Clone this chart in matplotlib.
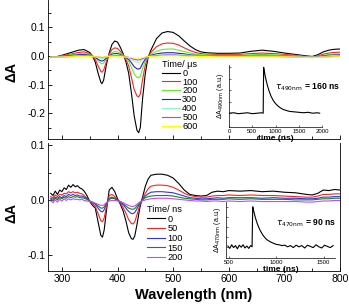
import matplotlib
matplotlib.use("Agg")
import matplotlib.pyplot as plt
from matplotlib.ticker import MultipleLocator

plt.rcParams['font.family'] = ['Liberation Sans', 'DejaVu Sans']

# TOP PANEL DATA (time in microseconds)
wl_top = [280, 290, 300, 310, 320, 330, 340, 350, 355, 360, 365, 370, 372, 375, 380, 385,
          390, 395, 400, 405, 410, 415, 420, 425, 430, 435, 438, 441, 445, 450, 455, 460,
          470, 480, 490, 500, 510, 520, 530, 540, 550, 560, 580, 600, 620, 640, 660, 680,
          700, 720, 740, 750, 760, 770, 780, 790, 800]
top_labels = ["0", "100", "200", "300", "400", "500", "600"]
top_colors = ["#000000", "#ff2020", "#66ee22", "#2020cc", "#88ffbb", "#cc33ff", "#ffff00"]
top_0 = [-0.004, -0.003, 0.002, 0.008, 0.014, 0.020, 0.022, 0.012, 0.0, -0.022, -0.060, -0.092, -0.097, -0.085, -0.030, 0.010,
         0.040, 0.052, 0.048, 0.030, 0.008, -0.020, -0.060, -0.130, -0.210, -0.260, -0.268, -0.250, -0.150, -0.060, -0.005, 0.020,
         0.060, 0.080, 0.085, 0.082, 0.070, 0.052, 0.035, 0.022, 0.014, 0.011, 0.009, 0.009, 0.010, 0.016, 0.020, 0.016,
         0.010, 0.005, 0.000, -0.002, 0.004, 0.014, 0.020, 0.023, 0.024]
top_100 = [-0.004, -0.003, 0.0, 0.004, 0.008, 0.012, 0.014, 0.008, 0.0, -0.012, -0.035, -0.054, -0.057, -0.050, -0.020, 0.006,
           0.022, 0.028, 0.026, 0.016, 0.004, -0.012, -0.035, -0.075, -0.118, -0.140, -0.143, -0.133, -0.082, -0.032, -0.003, 0.012,
           0.032, 0.042, 0.045, 0.044, 0.038, 0.028, 0.019, 0.012, 0.008, 0.006, 0.005, 0.005, 0.005, 0.008, 0.010, 0.008,
           0.005, 0.002, -0.002, -0.004, 0.0, 0.006, 0.010, 0.012, 0.013]
top_200 = [-0.004, -0.003, -0.001, 0.002, 0.005, 0.007, 0.008, 0.004, 0.0, -0.006, -0.017, -0.026, -0.028, -0.025, -0.011, 0.002,
           0.011, 0.015, 0.014, 0.009, 0.002, -0.007, -0.019, -0.040, -0.063, -0.075, -0.077, -0.072, -0.045, -0.018, -0.003, 0.005,
           0.016, 0.022, 0.024, 0.024, 0.020, 0.015, 0.010, 0.006, 0.004, 0.003, 0.002, 0.002, 0.002, 0.004, 0.005, 0.004,
           0.002, 0.0, -0.003, -0.004, -0.002, 0.002, 0.005, 0.006, 0.007]
top_300 = [-0.004, -0.003, -0.002, 0.0, 0.002, 0.004, 0.005, 0.002, -0.001, -0.005, -0.012, -0.017, -0.018, -0.016, -0.008, 0.0,
           0.006, 0.008, 0.008, 0.005, 0.0, -0.005, -0.012, -0.024, -0.038, -0.045, -0.046, -0.043, -0.027, -0.011, -0.002, 0.002,
           0.007, 0.010, 0.011, 0.011, 0.009, 0.007, 0.004, 0.002, 0.001, 0.001, 0.0, 0.0, 0.0, 0.001, 0.002, 0.001,
           0.0, -0.002, -0.004, -0.005, -0.003, 0.0, 0.002, 0.003, 0.004]
top_400 = [-0.005, -0.004, -0.003, -0.002, 0.0, 0.001, 0.002, 0.0, -0.001, -0.003, -0.006, -0.008, -0.009, -0.008, -0.004, -0.001,
           0.002, 0.003, 0.003, 0.002, -0.001, -0.003, -0.007, -0.013, -0.019, -0.022, -0.022, -0.021, -0.014, -0.006, -0.002, 0.0,
           0.003, 0.004, 0.005, 0.005, 0.004, 0.003, 0.002, 0.001, 0.0, 0.0, -0.001, -0.001, -0.001, 0.0, 0.0, 0.0,
           -0.001, -0.003, -0.004, -0.005, -0.004, -0.002, 0.0, 0.001, 0.002]
top_500 = [-0.005, -0.004, -0.004, -0.003, -0.002, -0.001, 0.0, -0.001, -0.002, -0.003, -0.004, -0.005, -0.006, -0.005, -0.003, -0.002,
           0.0, 0.001, 0.001, 0.0, -0.002, -0.003, -0.005, -0.009, -0.012, -0.014, -0.014, -0.013, -0.009, -0.005, -0.002, -0.001,
           0.001, 0.002, 0.003, 0.003, 0.002, 0.001, 0.0, 0.0, -0.001, -0.001, -0.002, -0.002, -0.002, -0.002, -0.002, -0.002,
           -0.003, -0.004, -0.005, -0.006, -0.005, -0.004, -0.003, -0.002, -0.001]
top_600 = [-0.004, -0.004, -0.004, -0.003, -0.003, -0.002, -0.002, -0.002, -0.003, -0.003, -0.004, -0.004, -0.004, -0.004, -0.003, -0.002,
           -0.001, -0.001, -0.001, -0.002, -0.003, -0.004, -0.005, -0.006, -0.007, -0.008, -0.008, -0.008, -0.006, -0.004, -0.003, -0.002,
           -0.001, 0.0, 0.0, 0.0, 0.0, -0.001, -0.001, -0.002, -0.002, -0.002, -0.003, -0.003, -0.003, -0.003, -0.003, -0.003,
           -0.003, -0.004, -0.005, -0.005, -0.005, -0.004, -0.004, -0.003, -0.003]
top_series = [top_0, top_100, top_200, top_300, top_400, top_500, top_600]

# BOTTOM PANEL DATA (time in nanoseconds)
wl_bot = [280, 284, 288, 292, 296, 300, 304, 308, 312, 316, 320, 324, 328, 332, 336, 340, 345, 350,
          355, 360, 365, 370, 373, 376, 380, 385, 390, 395, 400, 405, 410, 415, 420, 425, 428, 431,
          435, 440, 445, 450, 455, 460, 470, 480, 490, 500, 510, 520, 530, 540, 550, 560, 570, 580,
          590, 600, 620, 640, 660, 680, 700, 720, 740, 750, 760, 770, 780, 790, 800]
bot_labels = ["0", "50", "100", "150", "200"]
bot_colors = ["#000000", "#ff2020", "#3333ee", "#118811", "#cc44ff"]
bot_0 = [0.012, 0.008, 0.016, 0.010, 0.018, 0.015, 0.022, 0.019, 0.027, 0.023, 0.028, 0.024, 0.026, 0.022, 0.020, 0.016, 0.008, -0.003,
         -0.010, -0.015, -0.040, -0.065, -0.068, -0.055, -0.020, 0.018, 0.023, 0.015, 0.002, -0.008, -0.020, -0.038, -0.060, -0.071, -0.072, -0.066,
         -0.045, -0.015, 0.005, 0.025, 0.038, 0.045, 0.047, 0.047, 0.045, 0.040, 0.030, 0.018, 0.010, 0.008, 0.007, 0.008, 0.014, 0.016,
         0.015, 0.017, 0.016, 0.017, 0.015, 0.016, 0.014, 0.013, 0.010, 0.009, 0.012, 0.018, 0.017, 0.019, 0.018]
bot_50 = [0.006, 0.004, 0.009, 0.006, 0.010, 0.009, 0.012, 0.011, 0.015, 0.013, 0.015, 0.013, 0.014, 0.012, 0.011, 0.008, 0.003, -0.002,
          -0.007, -0.012, -0.025, -0.038, -0.040, -0.033, -0.013, 0.008, 0.010, 0.006, 0.0, -0.006, -0.014, -0.024, -0.036, -0.043, -0.044, -0.040,
          -0.027, -0.010, 0.002, 0.012, 0.020, 0.025, 0.027, 0.027, 0.026, 0.023, 0.018, 0.012, 0.008, 0.006, 0.005, 0.005, 0.007, 0.008,
          0.008, 0.009, 0.008, 0.009, 0.008, 0.008, 0.007, 0.006, 0.005, 0.005, 0.007, 0.010, 0.010, 0.011, 0.011]
bot_100 = [0.003, 0.001, 0.005, 0.003, 0.006, 0.004, 0.008, 0.006, 0.010, 0.008, 0.010, 0.008, 0.009, 0.007, 0.007, 0.005, 0.002, -0.002,
           -0.005, -0.008, -0.015, -0.021, -0.022, -0.018, -0.008, 0.003, 0.005, 0.003, 0.0, -0.004, -0.009, -0.015, -0.021, -0.025, -0.025, -0.023,
           -0.016, -0.006, 0.001, 0.007, 0.011, 0.014, 0.015, 0.015, 0.014, 0.013, 0.010, 0.007, 0.004, 0.003, 0.002, 0.002, 0.003, 0.004,
           0.003, 0.004, 0.004, 0.004, 0.003, 0.004, 0.003, 0.003, 0.002, 0.002, 0.003, 0.005, 0.005, 0.006, 0.006]
bot_150 = [0.001, -0.002, 0.003, 0.0, 0.004, 0.002, 0.005, 0.003, 0.006, 0.004, 0.006, 0.005, 0.006, 0.004, 0.004, 0.003, 0.001, -0.002,
           -0.004, -0.007, -0.011, -0.015, -0.015, -0.013, -0.006, 0.001, 0.003, 0.002, -0.001, -0.003, -0.007, -0.011, -0.015, -0.017, -0.017, -0.016,
           -0.011, -0.005, 0.0, 0.004, 0.006, 0.007, 0.008, 0.008, 0.008, 0.007, 0.005, 0.003, 0.002, 0.001, 0.0, 0.0, 0.001, 0.001,
           0.001, 0.002, 0.001, 0.002, 0.001, 0.001, 0.001, 0.0, 0.0, 0.0, 0.001, 0.002, 0.002, 0.003, 0.003]
bot_200 = [-0.002, -0.005, 0.0, -0.004, 0.001, -0.002, 0.002, -0.001, 0.002, 0.0, 0.002, 0.001, 0.001, 0.0, 0.001, -0.001, -0.002, -0.003,
           -0.004, -0.006, -0.008, -0.010, -0.010, -0.009, -0.005, -0.002, -0.001, -0.001, -0.002, -0.003, -0.005, -0.008, -0.010, -0.012, -0.012, -0.011,
           -0.008, -0.004, -0.002, 0.0, 0.001, 0.002, 0.003, 0.003, 0.003, 0.002, 0.001, 0.0, -0.001, -0.002, -0.002, -0.003, -0.002, -0.002,
           -0.003, -0.002, -0.003, -0.002, -0.003, -0.003, -0.003, -0.003, -0.004, -0.004, -0.003, -0.002, -0.002, -0.001, -0.001]
bot_series = [bot_0, bot_50, bot_100, bot_150, bot_200]

# INSET KINETICS (normalised)
t_top = [0, 100, 200, 300, 400, 500, 600, 700, 735, 745, 760, 780, 800, 830, 860, 900, 950, 1000,
         1050, 1100, 1150, 1200, 1300, 1400, 1500, 1600, 1700, 1800, 1900, 1950]
k_top = [0.0, 0.01, -0.01, 0.0, 0.01, -0.01, 0.0, 0.01, 0.0, 1.0, 0.91, 0.80, 0.71, 0.59, 0.49, 0.38, 0.28, 0.21,
         0.16, 0.12, 0.09, 0.07, 0.04, 0.03, 0.02, 0.01, 0.02, 0.0, 0.01, 0.0]
t_bot = [490, 510, 530, 550, 570, 590, 610, 630, 650, 670, 690, 710, 730, 745, 752, 760, 770, 780, 790, 800,
         815, 830, 845, 860, 880, 900, 920, 940, 960, 980, 1000, 1030, 1060, 1090, 1120, 1150, 1180, 1210,
         1240, 1270, 1300, 1330, 1360, 1390, 1420, 1450, 1480, 1510, 1540, 1570, 1600]
k_bot = [0.02, -0.04, 0.05, -0.02, 0.03, -0.05, 0.04, -0.01, 0.05, -0.03, 0.02, -0.04, 0.03, 0.0, 1.0, 0.92, 0.82, 0.73, 0.65, 0.58,
         0.49, 0.41, 0.35, 0.29, 0.23, 0.18, 0.15, 0.12, 0.10, 0.08, 0.06, 0.05, 0.03, 0.04, 0.0, 0.03, -0.02, 0.04,
         0.0, 0.03, -0.03, 0.04, 0.01, -0.02, 0.05, 0.0, -0.03, 0.04, 0.01, -0.02, 0.03]

fig = plt.figure(figsize=(3.49, 3.08), dpi=100)
W, H = 349, 308


def px_axes(x0, y0, x1, y1):
    # pixel box (top-left origin) -> figure axes
    return fig.add_axes([x0 / W, 1 - y1 / H, (x1 - x0) / W, (y1 - y0) / H])


ax1 = px_axes(48, 0, 340, 139)
ax2 = px_axes(48, 143, 340, 271)

for ax in (ax1, ax2):
    ax.set_xlim(275, 800)
    ax.xaxis.set_major_locator(MultipleLocator(100))
    ax.xaxis.set_minor_locator(MultipleLocator(50))
    ax.yaxis.set_major_locator(MultipleLocator(0.1))
    ax.yaxis.set_minor_locator(MultipleLocator(0.05))
    ax.tick_params(which="both", direction="in", labelsize=7.5, width=0.6, pad=2)
    ax.tick_params(which="major", length=3)
    ax.tick_params(which="minor", length=2)
    ax.spines["top"].set_visible(False)
    for s in ax.spines.values():
        s.set_linewidth(0.6)
    ax.set_ylabel("ΔA", fontsize=10, fontweight="bold")

ax1.spines["right"].set_visible(False)
ax1.set_ylim(-0.29, 0.195)
ax1.tick_params(labelbottom=False)
ax1.set_yticks([-0.2, -0.1, 0.0, 0.1])
ax1.set_yticklabels(["-0.2", "-0.1", "0.0", "0.1"])
ax1.yaxis.set_label_coords(-0.1, 0.48)

ax2.set_ylim(-0.13, 0.104)
ax2.set_yticks([-0.1, 0.0, 0.1])
ax2.set_yticklabels(["-0.1", "0.0", "0.1"])
ax2.yaxis.set_label_coords(-0.1, 0.45)
ax2.set_xlabel("Wavelength (nm)", fontsize=10.5, fontweight="bold", labelpad=3)

for vals, lab, col in zip(top_series, top_labels, top_colors):
    ax1.plot(wl_top, vals, color=col, lw=0.8, label=lab)
for vals, lab, col in zip(bot_series, bot_labels, bot_colors):
    ax2.plot(wl_bot, vals, color=col, lw=0.8, label=lab)

leg_kw = dict(frameon=False, fontsize=6.6, title_fontsize=6.6, handlelength=2.0,
              handletextpad=0.2, borderpad=0, borderaxespad=0, alignment="left")
ax1.legend(title="Time/ μs", loc="upper left", bbox_to_anchor=(162 / W, 1 - 60 / H),
           bbox_transform=fig.transFigure, labelspacing=-0.02, **leg_kw)
ax2.legend(title="Time/ ns", loc="upper left", bbox_to_anchor=(147 / W, 1 - 205 / H),
           bbox_transform=fig.transFigure, labelspacing=0.07, **leg_kw)

# INSETS
in1 = px_axes(229, 65, 322, 127)
in1.plot(t_top, k_top, color="black", lw=0.8)
in1.set_xlim(0, 2000)
in1.set_ylim(-0.3, 1.05)
in1.set_xticks([0, 500, 1000, 1500, 2000])
in1.text(0.49, 0.60, r"$\tau_{\mathrm{490nm}}$" + " = 160 ns", transform=in1.transAxes,
         fontsize=6.2, fontweight="bold")
in1.set_ylabel(r"$\Delta$A$_{\mathrm{490nm}}$ (a.u.)", fontsize=5, labelpad=2)

in2 = px_axes(226, 202, 335, 258)
in2.plot(t_bot, k_bot, color="black", lw=0.8)
in2.set_xlim(470, 1620)
in2.set_ylim(-0.28, 1.12)
in2.set_xticks([500, 1000, 1500])
in2.text(0.46, 0.58, r"$\tau_{\mathrm{470nm}}$" + " = 90 ns", transform=in2.transAxes,
         fontsize=6.2, fontweight="bold")
in2.set_ylabel(r"$\Delta$A$_{\mathrm{470nm}}$ (a.u.)", fontsize=5, labelpad=2)

for ax in (in1, in2):
    ax.set_facecolor("none")
    ax.spines["top"].set_visible(False)
    ax.spines["right"].set_visible(False)
    for s in ax.spines.values():
        s.set_linewidth(0.5)
    ax.set_yticks([0.0, 0.25, 0.5, 0.75, 1.0])
    ax.tick_params(which="both", direction="in", length=1.5, width=0.4,
                   labelsize=4.3, pad=1.5, labelleft=False)
    ax.set_xlabel("time (ns)", fontsize=6, fontweight="bold", labelpad=1)

fig.savefig("out.png", dpi=100)
